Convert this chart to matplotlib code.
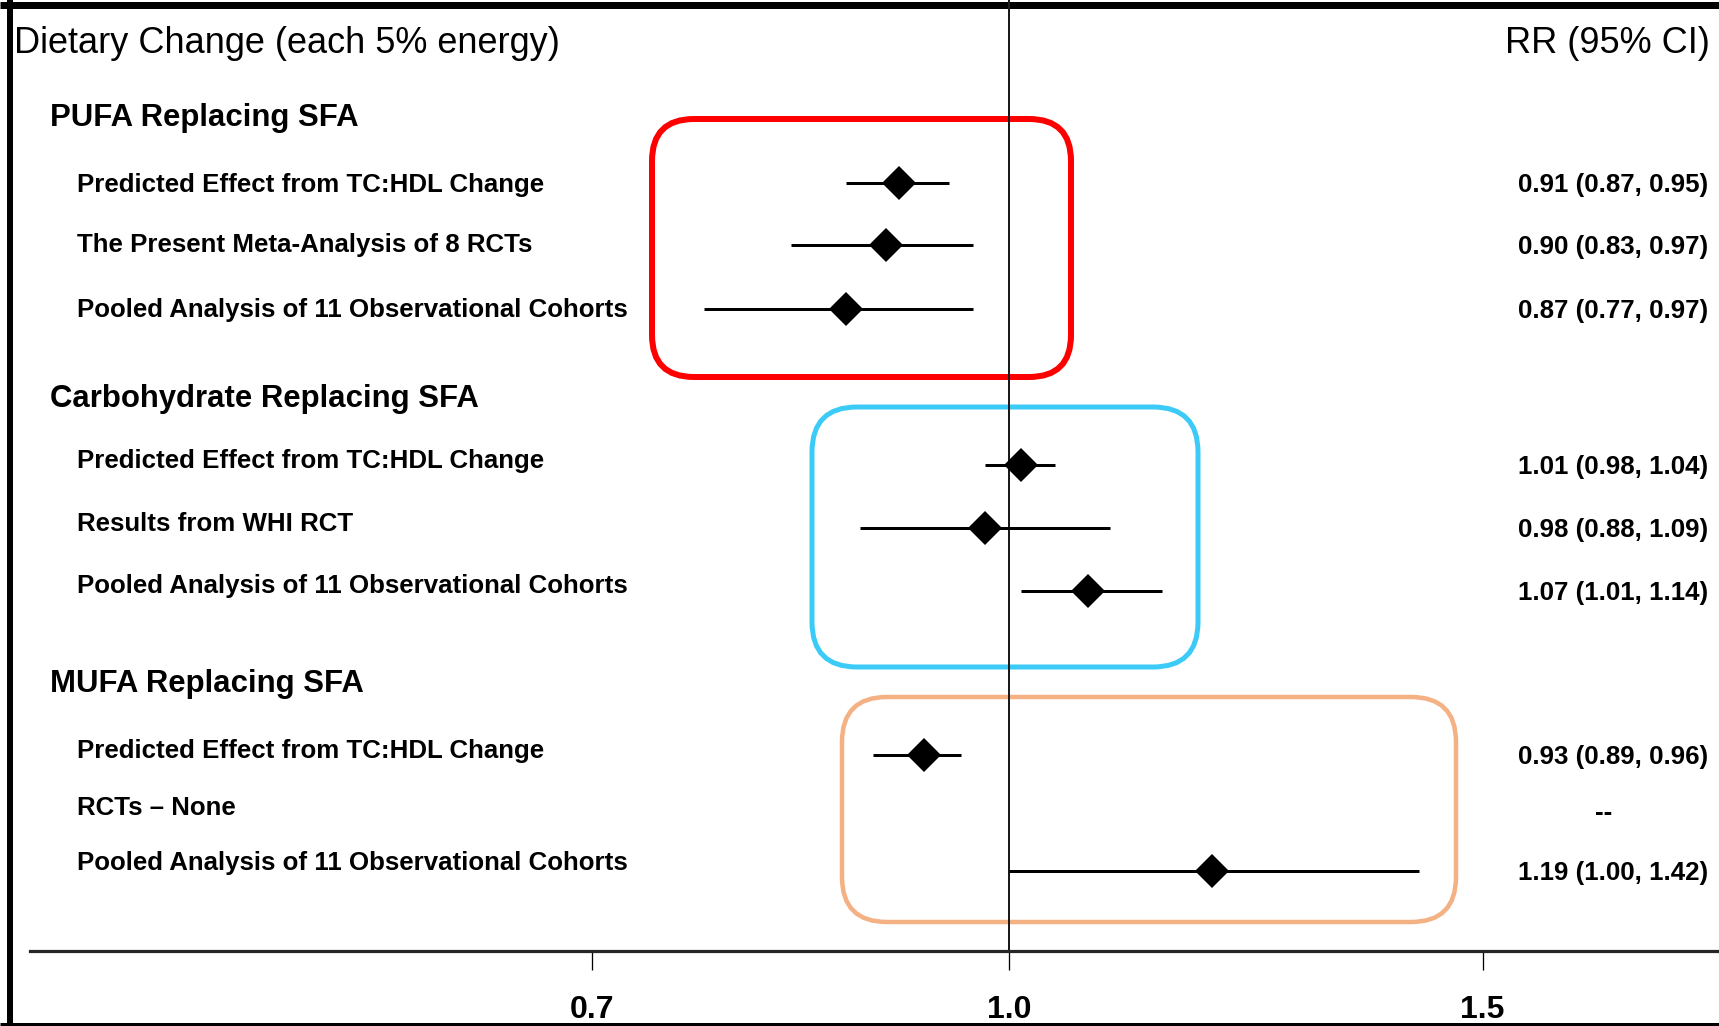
import numpy as np
import matplotlib.pyplot as plt
from matplotlib.patches import FancyBboxPatch
from matplotlib.ticker import NullLocator

plt.rcParams['font.family'] = ['Liberation Sans', 'DejaVu Sans']

# --- data ---
groups = ["PUFA Replacing SFA", "Carbohydrate Replacing SFA", "MUFA Replacing SFA"]
labels = [
    "Predicted Effect from TC:HDL Change",
    "The Present Meta-Analysis of 8 RCTs",
    "Pooled Analysis of 11 Observational Cohorts",
    "Predicted Effect from TC:HDL Change",
    "Results from WHI RCT",
    "Pooled Analysis of 11 Observational Cohorts",
    "Predicted Effect from TC:HDL Change",
    "RCTs \u2013 None",
    "Pooled Analysis of 11 Observational Cohorts",
]
rr = [0.91, 0.90, 0.87, 1.01, 0.98, 1.07, 0.93, np.nan, 1.19]
lo = [0.87, 0.83, 0.77, 0.98, 0.88, 1.01, 0.89, np.nan, 1.00]
hi = [0.95, 0.97, 0.97, 1.04, 1.09, 1.14, 0.96, np.nan, 1.42]
ticks = [0.7, 1.0, 1.5]
tick_labels = ["0.7", "1.0", "1.5"]

# --- layout (pixels from top-left) ---
W, H = 1719, 1026
axis_y = 951
x_one, k = 1009, 1168          # pixel of RR=1.0, pixels per ln unit
group_y = [115, 396, 681]
label_y = [183, 243, 308, 459, 522, 584, 749, 806, 861]
mark_y = [183, 245, 309, 465, 528, 591, 755, 812, 871]
box_specs = [  # x0, y0, x1, y1, color, lw(px), radius
    (652, 119, 1071, 377, '#FF0000', 6, 42),
    (812, 407, 1198, 667, '#3CCBF7', 5, 45),
    (842, 697, 1456, 922, '#F4B183', 4.5, 45),
]

px = 72 / 100  # points per pixel


def fmt(i):
    if np.isnan(rr[i]):
        return "--"
    return f"{rr[i]:.2f} ({lo[i]:.2f}, {hi[i]:.2f})"


def base(yc, size):
    # baseline from cap-center, size in pt
    return yc + 0.358 * size / px


fig = plt.figure(figsize=(W / 100, H / 100), dpi=100)

lay = fig.add_axes([0, 0, 1, 1])
lay.set_xlim(0, W)
lay.set_ylim(H, 0)
lay.axis('off')

ax = fig.add_axes([30 / W, (H - axis_y) / H, 1 - 30 / W, axis_y / H])
ax.set_xscale('log')
ax.set_xlim(np.exp((30 - x_one) / k), np.exp((W - x_one) / k))
ax.set_ylim(axis_y, 0)
ax.patch.set_alpha(0)
for s in ['top', 'right', 'left']:
    ax.spines[s].set_visible(False)
ax.spines['bottom'].set_linewidth(3.2 * px)
ax.spines['bottom'].set_color('#262626')
ax.set_yticks([])
ax.set_xticks(ticks)
ax.set_xticklabels(tick_labels, fontsize=23, fontweight='bold',
                   family=['Liberation Sans Narrow', 'Liberation Sans', 'DejaVu Sans'])
ax.xaxis.set_minor_locator(NullLocator())
ax.tick_params(axis='x', direction='out', length=19 * px, width=1.3 * px,
               pad=18, colors='black')

ax.axvline(1.0, color='#1a1a1a', lw=2 * px, zorder=1)

ax.hlines(mark_y, lo, hi, color='black', lw=3 * px, zorder=3)
ax.plot(rr, mark_y, 'D', color='black', ms=17.5, mew=0, zorder=4)

# highlight boxes
for x0, y0, x1, y1, c, lw, r in box_specs:
    lay.add_patch(FancyBboxPatch((x0, y0), x1 - x0, y1 - y0,
                                 boxstyle=f"round,pad=0,rounding_size={r}",
                                 fill=False, ec=c, lw=lw * px, zorder=5))

# frame
lay.plot([10, 10], [0, H], color='black', lw=6 * px, solid_capstyle='butt')
lay.plot([0, W], [5, 5], color='black', lw=7 * px, solid_capstyle='butt')
lay.plot([0, W], [1025, 1025], color='black', lw=5 * px, solid_capstyle='butt')

# texts
lay.text(14, base(40, 26), "Dietary Change (each 5% energy)", fontsize=26,
         va='baseline', ha='left')
lay.text(1710, base(40, 26), "RR (95% CI)", fontsize=26,
         va='baseline', ha='right')
for g, y in zip(groups, group_y):
    lay.text(50, base(y, 22.4), g, fontsize=22.4, fontweight='bold', va='baseline')
for i, (lab, y) in enumerate(zip(labels, label_y)):
    lay.text(77, base(y, 18.6), lab, fontsize=18.6, fontweight='bold', va='baseline')
    t = fmt(i)
    if t == "--":
        lay.text(1604, mark_y[i] + 0.3 * 18.6 / px, t, fontsize=18.6,
                 fontweight='bold', va='baseline', ha='center')
    else:
        lay.text(1708, base(mark_y[i], 18.6), t, fontsize=18.6,
                 fontweight='bold', va='baseline', ha='right')

fig.savefig("out.png", dpi=100)
